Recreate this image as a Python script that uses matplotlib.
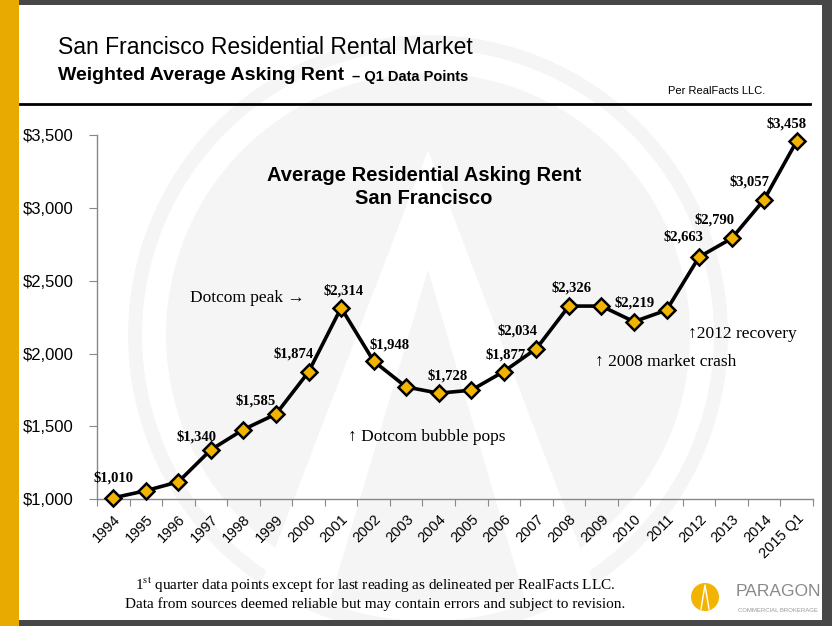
import matplotlib
matplotlib.use("Agg")
import matplotlib.pyplot as plt
from matplotlib.patches import Rectangle, Circle, Polygon
import numpy as np

# data
years = ["1994", "1995", "1996", "1997", "1998", "1999", "2000", "2001", "2002",
         "2003", "2004", "2005", "2006", "2007", "2008", "2009", "2010", "2011",
         "2012", "2013", "2014", "2015 Q1"]
rent = [1010, 1059, 1120, 1340, 1479, 1585, 1874, 2314, 1948,
        1771, 1728, 1749, 1877, 2034, 2326, 2326, 2219, 2298,
        2663, 2790, 3057, 3458]
labels = ["$1,010", None, None, "$1,340", None, "$1,585", "$1,874", "$2,314", "$1,948",
          None, "$1,728", None, "$1,877", "$2,034", "$2,326", None, "$2,219", None,
          "$2,663", "$2,790", "$3,057", "$3,458"]
# label offsets in pixels (dx, dy)
offs = [(0, 20), None, None, (-14, 13), None, (-20, 13), (-15, 18), (2, 17), (16, 16),
        None, (9, 17), None, (2, 17), (-19, 18), (3, 18), None, (1, 19), None,
        (-16, 20), (-17, 19), (-15, 18), (-10, 17)]
yticks = [1000, 1500, 2000, 2500, 3000, 3500]

W, H = 832, 626
gold = "#e8a900"
serif = ["Liberation Serif", "DejaVu Serif"]
sans = "Liberation Sans"
wm = "#f5f5f5"

fig = plt.figure(figsize=(W / 100, H / 100), dpi=100)
fig.patch.set_facecolor("white")

# background layer in pixel coords
bg = fig.add_axes([0, 0, 1, 1], zorder=0)
bg.set_xlim(0, W)
bg.set_ylim(H, 0)
bg.axis("off")

# faint watermark
cx, cy = 428, 335
bg.add_patch(Circle((cx, cy), 300, color=wm, lw=0))
bg.add_patch(Circle((cx, cy), 286, color="white", lw=0))
bg.add_patch(Circle((cx, cy), 262, color=wm, lw=0))
bg.add_patch(Polygon([(255, 600), (428, 150), (600, 600)], closed=True, color="white", lw=0))
bg.add_patch(Polygon([(330, 600), (428, 270), (525, 600)], closed=True, color=wm, lw=0))

# frame
bg.add_patch(Rectangle((19, 0), W - 19, 5, color="#474747", lw=0))
bg.add_patch(Rectangle((822, 0), 10, H, color="#474747", lw=0))
bg.add_patch(Rectangle((19, 620), W - 19, 6, color="#474747", lw=0))
bg.add_patch(Rectangle((0, 0), 19, H, color=gold, lw=0))
bg.plot([20, 810], [104, 104], color="black", lw=2)

# logo
bg.add_patch(Circle((705, 597), 14, color="#f2b400", lw=0))
bg.plot([701, 705, 709], [609, 585, 609], color="white", lw=1)
fig.text(778 / W, 1 - 592 / H, "PARAGON", fontsize=12.5, color="#8a8a8a",
         ha="center", va="center", family=sans)
fig.text(778 / W, 1 - 610 / H, "COMMERCIAL BROKERAGE", fontsize=4.3, color="#999999",
         ha="center", va="center", family=sans)

# headings
fig.text(58 / W, 1 - 47 / H, "San Francisco Residential Rental Market", fontsize=16.5,
         family=sans, va="center", ha="left")
fig.text(58 / W, 1 - 76 / H, "Weighted Average Asking Rent", fontsize=14,
         fontweight="bold", family=sans, va="center", ha="left")
fig.text(352 / W, 1 - 77 / H, "\u2013 Q1 Data Points", fontsize=10.5, fontweight="bold",
         family=sans, va="center", ha="left")
fig.text(765 / W, 1 - 91 / H, "Per RealFacts LLC.", fontsize=8,
         family=sans, va="center", ha="right")

# footnote
plt.rcParams["mathtext.fontset"] = "stix"
fig.text(375 / W, 1 - 585 / H,
         r"1$^{\mathrm{st}}$ quarter data points except for last reading as delineated per RealFacts LLC.",
         fontsize=11, family=serif, ha="center", va="center")
fig.text(375 / W, 1 - 604 / H,
         "Data from sources deemed reliable but may contain errors and subject to revision.",
         fontsize=11, family=serif, ha="center", va="center")

# main chart
ax = fig.add_axes([97 / W, 1 - 499.3 / H, (813 - 97) / W, (499.3 - 135) / H], zorder=2)
ax.patch.set_alpha(0)
x = np.arange(len(years))
ax.plot(x, rent, color="black", lw=2.6, zorder=3)
ax.plot(x, rent, ls="none", marker="D", ms=8, mfc="#f2b400", mec="black", mew=1.8,
        zorder=4, clip_on=False)

for i, lab in enumerate(labels):
    if lab is None:
        continue
    ax.annotate(lab, (x[i], rent[i]), xytext=offs[i], textcoords="offset pixels",
                ha="center", va="center", fontsize=10.5, fontweight="bold",
                family=serif, zorder=5)

ax.set_xlim(-0.5, len(years) - 0.5)
ax.set_ylim(1000, 3500)
ax.set_yticks(yticks)
ax.set_yticklabels(["${:,}".format(v) for v in yticks], fontsize=12, family=sans)
ax.set_xticks(np.arange(len(years) + 1) - 0.5)
ax.set_xticklabels([])
ax.set_xticks(x, minor=True)
ax.set_xticklabels(years, minor=True, rotation=45, ha="right", rotation_mode="anchor",
                   fontsize=10.5, family=sans)
ax.tick_params(axis="x", which="major", length=5, color="#888888", direction="out")
ax.tick_params(axis="x", which="minor", length=0, pad=9)
ax.tick_params(axis="y", length=6, color="#888888", pad=11)
for s in ["top", "right"]:
    ax.spines[s].set_visible(False)
for s in ["left", "bottom"]:
    ax.spines[s].set_color("#888888")
    ax.spines[s].set_linewidth(1)

# inner title
fig.text(424 / W, 1 - 187 / H, "Average Residential Asking Rent\nSan Francisco",
         fontsize=14.5, fontweight="bold", family=sans,
         ha="center", va="center", linespacing=1.25)

# notes
fig.text(190 / W, 1 - 298 / H, "Dotcom peak \u2192", fontsize=12.5, family=serif,
         va="center", ha="left")
fig.text(348 / W, 1 - 437 / H, "\u2191 Dotcom bubble pops", fontsize=12.5, family=serif,
         va="center", ha="left")
fig.text(595 / W, 1 - 362 / H, "\u2191 2008 market crash", fontsize=12.5, family=serif,
         va="center", ha="left")
fig.text(688 / W, 1 - 334 / H, "\u21912012 recovery", fontsize=12.5, family=serif,
         va="center", ha="left")

fig.savefig("out.png", dpi=100)
